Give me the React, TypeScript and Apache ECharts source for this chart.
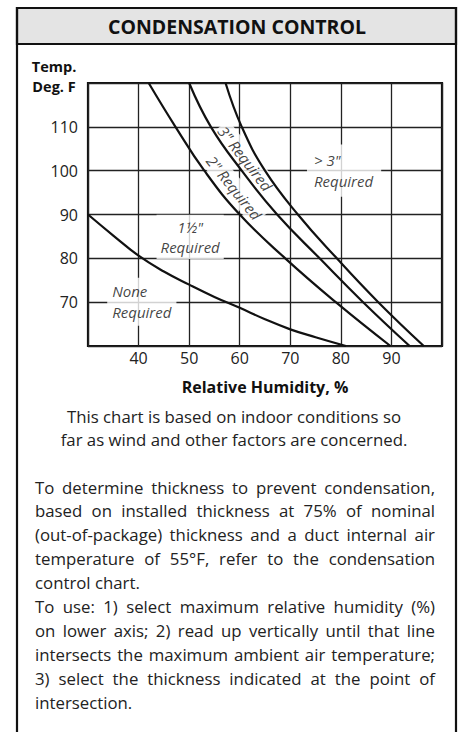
import React, { useEffect, useRef } from "react";
import * as echarts from "echarts";

// ---------- data ----------
const chartTitle = "CONDENSATION CONTROL";
const xAxisName = "Relative Humidity, %";
const yAxisNameLines = ["Temp.", "Deg. F"];
const xTickLabels = [40, 50, 60, 70, 80, 90];
const yTickLabels = [70, 80, 90, 100, 110];

// boundary curves: [relative humidity %, temperature °F]
const boundaryNoneTo1_5 = [
  [30, 90], [35, 85.2], [40, 80.6], [45, 77], [50, 74], [55, 71.2],
  [60, 68.7], [65, 66.1], [70, 63.8], [75, 62], [81, 60],
];
const boundary1_5To2 = [
  [42, 120], [47.3, 110], [53, 100], [60, 90], [69, 80], [79, 70], [89.8, 60],
];
const boundary2To3 = [
  [50, 120], [54.3, 110], [60.4, 100], [67.4, 90], [75.8, 80], [84.4, 70], [93.6, 60],
];
const boundary3ToMore = [
  [57.2, 120], [60.4, 110], [65, 100], [71.5, 90], [79.2, 80], [87.4, 70], [96.4, 60],
];

// region labels (text, anchor in data coordinates)
const regionLabelTexts = ["None\nRequired", '1½"\nRequired', '> 3"\nRequired', '3" Required', '2" Required'];
const regionLabelAnchors = [[33.8, 70.1], [50.2, 84.9], [73.3, 100], [61.1, 102.8], [58.9, 96.1]];

const footnoteLines = [
  "This chart is based on indoor conditions so",
  "far as wind and other factors are concerned.",
];
const paragraphLines = [
  "To determine thickness to prevent condensation,",
  "based on installed thickness at 75% of nominal",
  "(out-of-package) thickness and a duct internal air",
  "temperature of 55°F, refer to the condensation",
  "control chart.",
  "To use: 1) select maximum relative humidity (%)",
  "on lower axis; 2) read up vertically until that line",
  "intersects the maximum ambient air temperature;",
  "3) select the thickness indicated at the point of",
  "intersection.",
];
const justifiedLines = [0, 1, 2, 3, 5, 6, 7, 8];

const FONT = "'Open Sans'";

export default function App() {
  const ref = useRef<HTMLDivElement>(null);

  useEffect(() => {
    if (!ref.current) return;
    const chart = echarts.init(ref.current, undefined, { renderer: "svg" });

    const lineStyle = { color: "#111", width: 2.2 };
    const curve = (name: string, data: number[][]) => ({
      name,
      type: "line",
      data,
      symbol: "none",
      smooth: 0.45,
      lineStyle,
      z: 3,
      silent: true,
    });

    const labelStyles: any[] = [
      { align: "left", padding: [4, 5, 3, 5] },
      { align: "center", padding: [2, 4, 1, 4] },
      { align: "left", padding: [6, 8, 5, 7] },
      { align: "center", rotate: -52, padding: [0, 2, 0, 2] },
      { align: "center", rotate: -51, padding: [0, 2, 0, 2] },
    ];

    const paraTop = 487;
    const paraStep = 23.9;

    const graphics: any[] = [
      {
        type: "rect",
        shape: { x: 17, y: 8, width: 439, height: 760 },
        style: { fill: "none", stroke: "#111", lineWidth: 2.2 },
        z: 10,
      },
      {
        type: "rect",
        shape: { x: 17, y: 8, width: 439, height: 36 },
        style: { fill: "#e4e4e4", stroke: "#111", lineWidth: 2.2 },
        z: 9,
      },
      {
        type: "text",
        x: 237,
        y: 26,
        style: {
          text: chartTitle,
          font: `bold 19.5px ${FONT}`,
          fill: "#111",
          align: "center",
          verticalAlign: "middle",
        },
        z: 11,
      },
      ...yAxisNameLines.map((t, i) => ({
        type: "text",
        x: 54,
        y: 66.5 + i * 20,
        style: {
          text: t,
          font: `bold 14.5px ${FONT}`,
          fill: "#111",
          align: "center",
          verticalAlign: "middle",
        },
        z: 11,
      })),
      ...footnoteLines.map((t, i) => ({
        type: "text",
        x: 234,
        y: 416 + i * 23,
        style: {
          text: t,
          font: `16.8px ${FONT}`,
          fill: "#222",
          align: "center",
          verticalAlign: "middle",
        },
        z: 11,
      })),
      ...paragraphLines.map((t, i) => ({
        type: "text",
        x: 35,
        y: paraTop + i * paraStep,
        style: {
          text: t,
          font: `16.8px ${FONT}`,
          fill: "#222",
          align: "left",
          verticalAlign: "middle",
        },
        z: 11,
      })),
    ];

    const tickFmt = (list: number[]) => (v: number) => (list.indexOf(v) >= 0 ? String(v) : "");

    chart.setOption({
      animation: false,
      grid: {
        left: 88,
        right: 16,
        top: 83,
        bottom: 386,
        show: true,
        borderColor: "#111",
        borderWidth: 2.2,
        backgroundColor: "#fff",
      },
      xAxis: {
        type: "value",
        min: 30,
        max: 100,
        interval: 10,
        axisLine: { show: false },
        axisTick: { show: false },
        axisLabel: {
          color: "#222",
          fontSize: 16,
          fontFamily: FONT,
          margin: 4,
          formatter: tickFmt(xTickLabels),
        },
        splitLine: { show: true, lineStyle: { color: "#222", width: 1.3 } },
        name: xAxisName,
        nameLocation: "middle",
        nameGap: 33,
        nameTextStyle: { color: "#111", fontSize: 16, fontWeight: "bold", fontFamily: FONT },
      },
      yAxis: {
        type: "value",
        min: 60,
        max: 120,
        interval: 10,
        axisLine: { show: false },
        axisTick: { show: false },
        axisLabel: {
          color: "#222",
          fontSize: 16,
          fontFamily: FONT,
          margin: 10,
          formatter: tickFmt(yTickLabels),
        },
        splitLine: { show: true, lineStyle: { color: "#222", width: 1.3 } },
      },
      series: [
        curve('None / 1½"', boundaryNoneTo1_5),
        curve('1½" / 2"', boundary1_5To2),
        curve('2" / 3"', boundary2To3),
        curve('3" / > 3"', boundary3ToMore),
        {
          name: "region labels",
          type: "scatter",
          symbolSize: 0,
          silent: true,
          z: 2,
          data: regionLabelAnchors.map((v, i) => ({
            value: v,
            label: {
              show: true,
              position: "inside",
              formatter: regionLabelTexts[i],
              verticalAlign: "middle",
              fontStyle: "italic",
              fontFamily: FONT,
              fontSize: 15,
              lineHeight: 20.6,
              color: "#111",
              backgroundColor: "#fff",
              ...labelStyles[i],
            },
          })),
        },
      ],
      graphic: graphics,
    });

    // justify paragraph lines (word spacing) like the printed original
    const justify = () => {
      const el = ref.current;
      if (!el) return;
      const texts = Array.from(el.querySelectorAll("text")) as SVGTextElement[];
      justifiedLines.forEach((li) => {
        const content = paragraphLines[li];
        const node = texts.find((t) => t.textContent === content);
        if (!node) return;
        node.removeAttribute("word-spacing");
        const w = node.getComputedTextLength();
        const spaces = (content.match(/ /g) || []).length;
        if (spaces > 0) {
          const ws = (400 - w) / spaces;
          node.setAttribute("word-spacing", ws.toFixed(2));
        }
      });
    };
    justify();
    const raf = requestAnimationFrame(justify);

    return () => {
      cancelAnimationFrame(raf);
      chart.dispose();
    };
  }, []);

  return (
    <div
      ref={ref}
      style={{ position: "fixed", left: 0, top: 0, width: 458, height: 732, background: "#fff" }}
    />
  );
}
